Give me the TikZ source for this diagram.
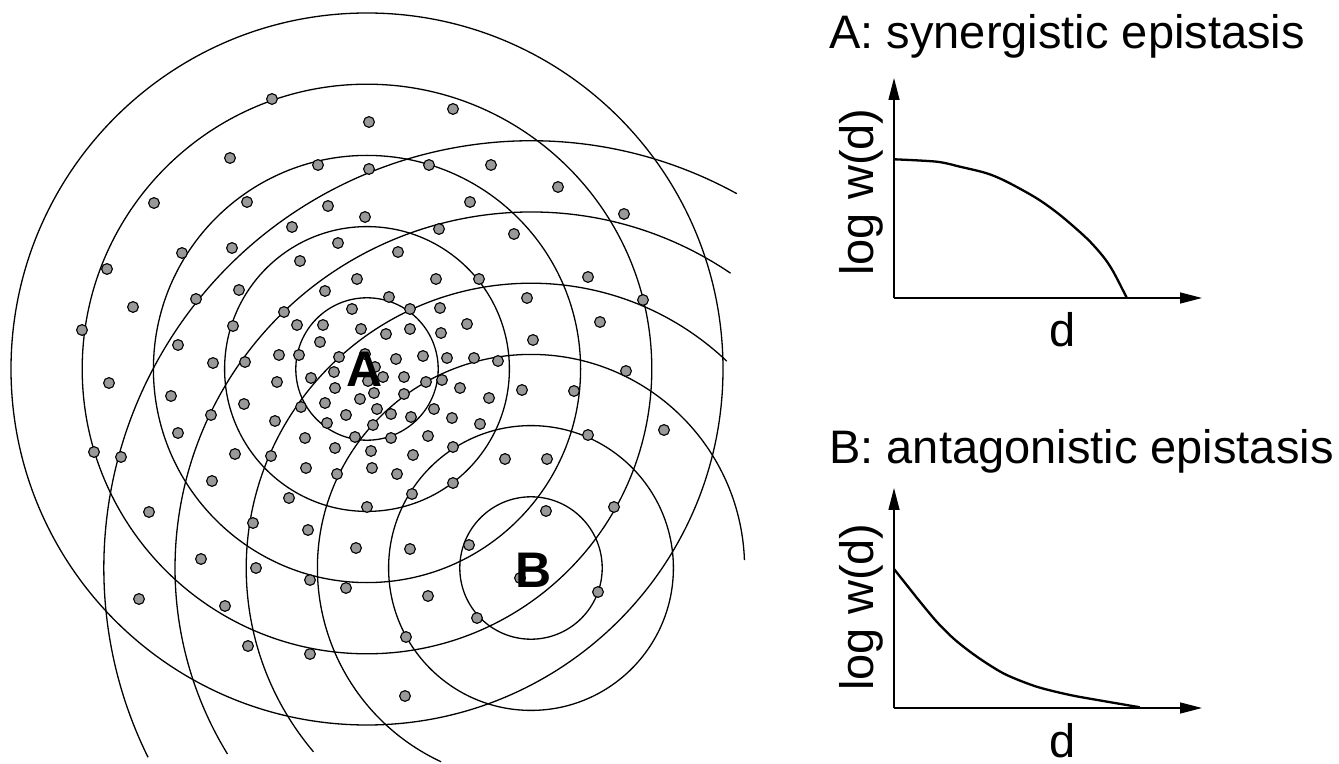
\documentclass[tikz,border=0pt]{standalone}
\usepackage{fontspec}
\setmainfont{Liberation Sans}
\usetikzlibrary{arrows.meta}
\definecolor{dotgray}{RGB}{153,153,153}
\tikzset{
  ring/.style={line width=0.65pt},
  dotstyle/.style={fill=dotgray, draw=black, line width=0.55pt},
  axisline/.style={line width=0.7pt, -{Triangle[length=11pt,width=5.5pt]}},
  curveline/.style={line width=1.15pt},
  titletext/.style={anchor=base west, inner sep=0pt, font=\fontsize{23.5}{28}\selectfont},
  axlabel/.style={anchor=base, inner sep=0pt, font=\fontsize{23.5}{28}\selectfont},
  ptlabel/.style={inner sep=0pt, font=\fontsize{25}{30}\selectfont\bfseries},
}
\begin{document}
\begin{tikzpicture}[x=0.5pt,y=-0.5pt]
\useasboundingbox (0,0) rectangle (1339,764);
\coordinate (Ac) at (367,369);
\coordinate (Bc) at (531,568);
% rings around A
\foreach \r in {35.6pt,71.2pt,106.8pt,142.4pt,178pt}{\draw[ring] (Ac) circle[radius=\r];}
% rings around B
\draw[ring] (Bc) circle[radius=35.6pt];
\draw[ring] (Bc) circle[radius=71.2pt];
\draw[ring] (Bc) ++(2.1:106.8pt) arc[start angle=2.1,end angle=245.1,radius=106.8pt];
\draw[ring] (Bc) ++(46.6:142.4pt) arc[start angle=46.6,end angle=220.2,radius=142.4pt];
\draw[ring] (Bc) ++(55.9:178pt) arc[start angle=55.9,end angle=211.5,radius=178pt];
\draw[ring] (Bc) ++(61.2:213.6pt) arc[start angle=61.2,end angle=206.3,radius=213.6pt];
% genotypes
\foreach \x/\y in {272/99,453/109,369/122,230/158,318/165,369/169,429/165,491/165,558/187,
154/203,247/202,328/206,470/202,624/214,365/217,292/227,439/229,514/234,182/253,232/248,
338/243,398/252,107/269,239/290,196/299,133/307,233/326,82/330,178/345,213/363,245/362,
109/383,171/396,244/404,211/415,178/433,94/452,121/457,235/454,212/481,149/512,
300/261,357/279,436/279,479/279,325/291,389/297,284/312,352/309,410/309,440/308,297/325,
323/325,361/329,410/329,386/334,441/333,467/324,320/342,279/355,299/355,339/357,365/354,
396/359,423/356,447/358,474/358,498/361,375/367,277/382,311/378,334/372,368/381,383/377,
404/377,426/382,442/380,335/388,460/388,374/393,404/394,489/398,325/403,360/399,301/407,
377/409,346/415,391/414,411/417,434/409,452/418,275/421,327/423,373/425,480/424,305/438,
355/437,391/438,428/436,453/447,335/448,371/451,413/455,271/456,306/468,337/474,372/468,
397/474,453/483,289/498,412/494,367/507,
588/277,527/298,643/300,600/322,533/340,626/371,522/390,574/391,664/430,588/435,505/459,
547/459,614/507,546/511,
201/559,139/599,225/606,248/646,
253/523,308/530,356/548,410/549,469/545,256/568,310/580,346/588,428/596,477/618,406/637,
310/654,405/696,520/578,598/592}
  {\draw[dotstyle] (\x,\y) circle[radius=2.7pt];}
\node[ptlabel] (labA) at (365,369) {A};
\node[ptlabel] (labB) at (534,570) {B};
% plot A
\node[titletext] (titA) at (829,49) {A: synergistic epistasis};
\coordinate (oA) at (894,298);
\coordinate (yA) at (894,78);
\coordinate (xA) at (1202,298);
\draw[axisline] (oA) -- (yA);
\draw[axisline] (oA) -- (xA);
\draw[curveline] plot[smooth] coordinates {(894,159.3) (936.7,161.7) (960,166.7) (986.7,173.3) (1006.7,181.7) (1036.7,198.3) (1060,215) (1086.7,238.3) (1103.3,256.7) (1113.3,271.7) (1126.7,297.7)};
\node[axlabel,rotate=90] (ylabA) at (873,192) {log w(d)};
\node[axlabel] (xlabA) at (1063,347) {d};
% plot B
\node[titletext] (titB) at (829,464) {B: antagonistic epistasis};
\coordinate (oB) at (894,708);
\coordinate (yB) at (894,488);
\coordinate (xB) at (1202,708);
\draw[axisline] (oB) -- (yB);
\draw[axisline] (oB) -- (xB);
\draw[curveline] plot[smooth] coordinates {(894,569) (906.7,585) (920,601.7) (936.7,621.7) (953.3,638.3) (970,651.7) (986.7,663.3) (1006.7,675) (1036.7,686.7) (1070,695) (1103.3,701) (1140,707.3)};
\node[axlabel,rotate=90] (ylabB) at (873,607) {log w(d)};
\node[axlabel] (xlabB) at (1063,757) {d};
\end{tikzpicture}
\end{document}
